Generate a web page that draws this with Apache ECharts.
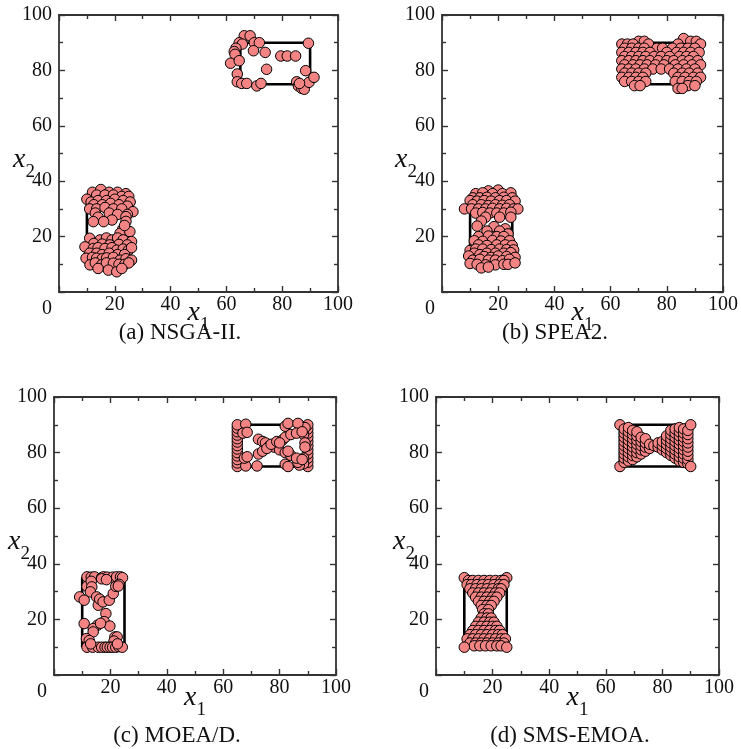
<!DOCTYPE html>
<html><head><meta charset="utf-8">
<script src="https://cdn.jsdelivr.net/npm/echarts@6/dist/echarts.min.js"></script>
<style>html,body{margin:0;padding:0;background:#fff}#c{width:741px;height:749px}</style>
</head><body><div id="c"></div>
<script>
// ---------------- data ----------------
const tickValues = [0, 20, 40, 60, 80, 100];
const panelCaptions = ['(a) NSGA-II.', '(b) SPEA2.', '(c) MOEA/D.', '(d) SMS-EMOA.'];
const rectLowerX = [10, 25, 25, 10, 10];
const rectLowerY = [10, 10, 35, 35, 10];
const rectUpperX = [65, 90, 90, 65, 65];
const rectUpperY = [75, 75, 90, 90, 75];

const nsga2Lower = [
 [12,36],[15,37],[18,36],[21,36],[24,35.5],
 [13.5,35],[16.5,35],[19.5,35],[22.5,34.5],[25,34.5],
 [10,33.5],[11.5,32.5],[14,33],[17,33],[20,33.5],[23,33],[25.5,32.5],
 [12.5,31.5],[15.5,31.5],[18.5,32],[21.5,31.5],[24.5,31],
 [11,30],[13.5,30],[16.5,30.5],[19.5,30],[22.5,30],[26.5,29],
 [13,28.5],[18,28.5],[21,28],[24.5,28],
 [14,27],[19,26],[24,27.2],
 [12.3,25.4],[16,25.4],[24,25.5],
 [22.8,22.6],[21.9,21.2],[25.4,21.8],[23.5,24],
 [11,19.4],[14.7,18.8],[17,19.5],[19,18.8],[21,19.5],[23,18.8],[26,18.2],
 [12.5,17.5],[15.5,17.3],[18.2,17],[21.5,17.2],[24.5,17],
 [9.3,16.3],[12.3,15.7],[14,16],[16.5,15.7],[19,16],[20.7,15.1],[23,15.5],[24.9,15.1],[26,16],
 [11,14],[13.5,14],[15.5,13.5],[18,14],[21,13.5],[23.5,13.5],
 [9.7,12.2],[12,12.5],[13.5,12.2],[15.5,12],[17.1,12.3],[19.5,12.5],[21.9,11.5],[24,12],[26,11.5],
 [11.1,9.8],[13,10.5],[15.3,9.8],[17,10.5],[19.5,10.4],[21.5,10],[23.6,10],[25,10.5],
 [14,8.5],[17.7,7.9],[20.7,7.3],[22.5,8.5]
];
const nsga2Upper = [
 [66.4,92.5],[68.5,92.5],[64.6,90],[65.7,89.5],[70,90],[71.8,90],[63.4,88],[62.8,86.8],
 [63.1,85.8],[61.5,82.6],[64.6,83.5],[69.7,87.1],[73.9,86.5],[79.5,85.2],[81.8,85.2],[84.8,85.2],
 [74.4,80.4],[89.4,89.8],[88.4,79.9],[63.9,78.7],[63.9,75.9],[65.5,75.3],[67.3,75.3],[70.9,74.4],
 [72.4,75.3],[85.2,75.9],[85.8,74.4],[87,73.5],[87.9,73.2],[89.6,75.7],[91.4,77.5],[86.2,75.3]
];

const spea2Lower = [
 [16.5,36.5],[20,36.8],
 [12,35.5],[14.5,35.8],[18,35.5],[21.5,35.5],[24.5,35.8],
 [11,34],[13.5,34],[16,34.2],[19,34],[22,34.2],[25,34],
 [10,33],[12.5,32.8],[15,33],[17.5,32.8],[20.5,33],[23,33],[26,32.8],
 [11,31.5],[14,31.5],[16.5,31.2],[19,31.5],[21.5,31.3],[24,31.5],
 [8,30],[10.5,30],[13,30],[15.5,30],[18,30.2],[20.5,30],[23,30.2],[25.5,30],[27,30],
 [12,28.5],[14.5,28.7],[17,28.5],[19.5,28.5],[22,28.5],[24.5,28.8],
 [15.5,27],[20.5,27],[24.5,27],
 [14,25.6],
 [12.5,23.8],[18.5,23.6],[22.5,22.8],
 [16,22],[20.5,22],[23.5,21],
 [13,20],[16.5,20.2],[19.5,20],[22,20],
 [11.5,18.5],[14.5,18.3],[18,18.6],[21,18.4],[24,18.5],
 [13,17],[16,16.8],[19.5,17],[22.5,17],[25,16.8],
 [10,15],[12,15.5],[14.5,15.5],[17.5,15.3],[20.5,15.5],[23,15.3],[25.5,15.2],
 [11.5,14],[13.5,13.5],[16,14],[19,14],[22,14],[24.5,14.2],
 [9.5,13],[15,12.8],[17.5,12.5],[20,13],[23,12.8],[26,12.5],
 [11,11.5],[13.5,11.8],[16.5,11.5],[19,11.5],[21.5,11.3],[24,11.8],
 [10,10.3],[12.5,10],[15.5,9.8],[19,9.8],[22,10],[23.5,10],[26,10.5],
 [14,8.7],[16.5,9]
];
const spea2Upper = [
 [86,91.5],
 [70,90.5],[72,90.5],[88.5,90.5],[90.5,90.5],
 [64,89.5],[66,89.5],[68,89.5],[73.5,89.5],[84,89.5],[92,89.5],
 [65,88],[67.5,88],[70,88],[72,88],[76.5,88],[78.5,88],[82,88],[85,88],[87.5,88],[90,88],
 [64,86.5],[66.5,86.5],[69,86.5],[71.5,86.5],[74,86.5],[80,86.5],[83.5,86.5],[86,86.5],[88.5,86.5],[91.5,86.5],
 [65,85],[67.5,85],[70,85],[72.5,85],[75.5,85],[78,85],[81,85],[84.5,85],[87,85],[89.5,85],
 [64,83.5],[66.5,83.5],[69,83.5],[71.5,83.5],[74,83.5],[77,83.5],[80,83.5],[82.5,83.5],[85.5,83.5],[88,83.5],[91,83.5],
 [65,82],[68,82],[70.5,82],[73,82],[76,82],[79,82],[83,82],[86,82],[89,82],[92,82],
 [64,80.5],[66.5,80.5],[69,80.5],[72,80.5],[75,80.5],[78,80.5],[81,80.5],[84,80.5],[87,80.5],[90,80.5],
 [65,79],[67.5,79],[70,79],[72.5,79],[82.5,79],[85.5,79],[88,79],[91,79],
 [64,77.5],[66.5,77.5],[69,77.5],[71.5,77.5],[84,77.5],[86.5,77.5],[89.5,77.5],[92,77.5],
 [65,76],[67.5,76],[70,76],[72.5,76],[83,76],[85.5,76],[88,76],[90.5,76],
 [68.5,74.5],[70.5,74.5],[87.5,74.5],[90,74.5],
 [84,73.5],[85.5,73.5]
];

const moeadLower = [
 [11.7,35.3],[13.2,35.2],[14.4,35.3],[16.9,35],[17.5,35.3],[18.9,35.2],[20.8,35.2],[22.2,35.3],[23.6,35.3],[24.3,35],
 [16.9,34.6],[18.6,34.3],
 [11.7,31.9],[13.2,33.7],[13.4,31.7],[12.9,29.9],[15.1,28.1],[15.7,25.1],[16.2,27.3],[17.4,26.3],
 [19.6,26.9],[21,29.3],[21.9,31.9],[23.1,32.6],[22.8,32],
 [9.1,28.1],[10.7,26.9],[10.7,18.5],
 [18.4,22.1],[15.4,17.9],[13.9,16.7],[13.9,15.5],[17.8,19.2],[19.8,17.6],[16.5,18.6],
 [11.5,13.1],[12.5,12.4],[21.6,13.7],[22.4,13.7],[21.3,12.2],
 [11.7,10],[13.7,10],[15.7,10],[16.9,10],[18.1,10],[18.9,10],[19.9,10],[20.8,10],[21.9,10],[23,10.2],[24.2,10],
 [13,11.2],[22.5,11.2]
];
const moeadUpper = [
 [65,75],[65,76.3],[65,77.5],[65,78.8],[65,80],[65,81.3],[65,82.5],[65,83.8],[65,85],[65,86.3],[65,87.5],[65,88.8],[65,90],
 [90,75],[90,76.5],[90,78],[90,79.5],[90,81],[90,82.5],[90,84],[90,85.5],[90,87],[90,88.5],[90,90],
 [88.5,76],[88.5,78],[88.5,86.5],[88.5,88.2],[87,90],[89,89],
 [68,90.2],[82,89.5],[83,90.5],[86.5,90.5],[67,87],[68.5,87.3],
 [68,75.2],[72,75.2],[82,75.8],[83,75],[87,75.5],[86.5,76.5],
 [67.5,78],[68.5,78.5],
 [72.5,84.8],[74,84],[75,83.5],[76.5,82.5],[78,82],[80,81],[82,80],[84,79],[86,78],[88,77.5],
 [72.5,79.5],[74,80.5],[75.5,81.5],[77,83],[79,84],[81,84.5],[82,85.5],[84,86.5],[86,87],[88,87.5],
 [83,80.5],[80,83.5],[89,83.5],[89,82]
];

const smsLower = [
 [10,35],[25,35],
 [11.5,34],[13,34],[15,34],[17,34],[19,34],[21,34],[23,34],[24,34],
 [11,32.5],[12.5,32.5],[14.5,32.5],[16.5,32.5],[18.5,32.5],[20.5,32.5],[22.5,32.5],[24,32.5],
 [12,31],[14,31],[16,31],[18,31],[20,31],[22,31],[23,31],
 [13,29.5],[15,29.5],[17,29.5],[19,29.5],[21,29.5],[22.5,29.5],
 [14,28],[16,28],[18,28],[20,28],[21.5,28],
 [15,26.5],[17,26.5],[19,26.5],[20.5,26.5],
 [16,25],[18,25],[19.5,25],
 [16.5,23.5],[18.5,23.5],
 [17,22],[18.5,22],
 [16,20.5],[18,20.5],[19.5,20.5],
 [15,19],[17,19],[19,19],[20.5,19],
 [14,17.5],[16,17.5],[18,17.5],[20,17.5],[21.5,17.5],
 [13,16],[15,16],[17,16],[19,16],[21,16],[22.5,16],
 [12,14.5],[14,14.5],[16,14.5],[18,14.5],[20,14.5],[22,14.5],[23.5,14.5],
 [11,13],[13,13],[15,13],[17,13],[19,13],[21,13],[23,13],[24.5,13],
 [12,11.5],[14,11.5],[16,11.5],[18,11.5],[20,11.5],[22,11.5],[24,11.5],
 [13.5,10.5],[15.5,10.5],[17.5,10.5],[19.5,10.5],[21.5,10.5],[23,10.5],
 [10,10],[25,10]
];
const smsUpper = [
 [65,90],[65,75],
 [66.5,76.5],[66.5,78],[66.5,79.5],[66.5,81],[66.5,82.5],[66.5,84],[66.5,85.5],[66.5,87],[66.5,88.5],
 [68,77],[68,78.5],[68,80],[68,81.5],[68,83],[68,84.5],[68,86],[68,87.5],[68,89],
 [69.5,77.5],[69.5,79],[69.5,80.5],[69.5,82],[69.5,83.5],[69.5,85],[69.5,86.5],[69.5,88],
 [71,78.5],[71,80],[71,81.5],[71,83],[71,84.5],[71,86],[71,87.5],
 [72.5,79.5],[72.5,81],[72.5,82.5],[72.5,84],[72.5,85.5],
 [74,80.5],[74,82],[74,83.5],[74,85],
 [75.5,81.5],[75.5,83],
 [77,82.5],
 [78.5,82],[78.5,83.5],
 [80,81],[80,82.5],[80,84],
 [81.5,80],[81.5,81.5],[81.5,83],[81.5,84.5],[81.5,86],
 [83,79],[83,80.5],[83,82],[83,83.5],[83,85],[83,86.5],[83,88],
 [84.5,78],[84.5,79.5],[84.5,81],[84.5,82.5],[84.5,84],[84.5,85.5],[84.5,87],[84.5,88.5],
 [86,77],[86,78.5],[86,80],[86,81.5],[86,83],[86,84.5],[86,86],[86,87.5],[86,89],
 [87.5,76.5],[87.5,78],[87.5,79.5],[87.5,81],[87.5,82.5],[87.5,84],[87.5,85.5],[87.5,87],[87.5,88.5],
 [89,76],[89,77.5],[89,79],[89,80.5],[89,82],[89,83.5],[89,85],[89,86.5],[89,88],
 [90,90],[90,75]
];

// ---------------- layout / style ----------------
const panelPoints = [
  nsga2Lower.concat(nsga2Upper),
  spea2Lower.concat(spea2Upper),
  moeadLower.concat(moeadUpper),
  smsLower.concat(smsUpper)
];
const gridBoxes = [
  {left: 59, top: 15, width: 279, height: 277},
  {left: 442, top: 15, width: 281, height: 277},
  {left: 54, top: 397, width: 282, height: 278},
  {left: 436, top: 397, width: 283, height: 278}
];
const yNameGaps = [24, 25, 24, 21];
const xNameGaps = [7, 7, 9, 9];
const captionPos = [[180, 321], [555, 321], [177, 724], [570, 724]];

const FONT = '"Liberation Serif","DejaVu Serif",serif';
const AX = '#333';
const tickMax = tickValues[tickValues.length - 1];
const tickStep = tickValues[1] - tickValues[0];

const nameRich = {
  i: {fontFamily: FONT, fontStyle: 'italic', fontSize: 28, lineHeight: 28, color: '#111', verticalAlign: 'middle'},
  s: {fontFamily: FONT, fontSize: 19, lineHeight: 19, color: '#111', verticalAlign: 'top', padding: [17, 0, 0, 0]}
};

function baseAxis(gi, showLabel) {
  return {
    gridIndex: gi, type: 'value', min: tickValues[0], max: tickMax, interval: tickStep,
    axisLine: {show: true, onZero: false, lineStyle: {color: AX, width: 1.8}},
    axisTick: {show: true, inside: true, length: 6, lineStyle: {color: AX, width: 1.4}},
    minorTick: {show: true, splitNumber: 2, length: 4, lineStyle: {color: AX, width: 1.4}},
    splitLine: {show: false},
    minorSplitLine: {show: false},
    axisLabel: {show: showLabel}
  };
}

const xAxes = [], yAxes = [], series = [], grids = [], titles = [];
gridBoxes.forEach((g, gi) => {
  grids.push(Object.assign({containLabel: false}, g));
  const xb = baseAxis(gi, true);
  xb.position = 'bottom';
  xb.axisLabel = {
    show: true, margin: 3, fontFamily: FONT, fontSize: 20, color: '#111',
    formatter: v => (+v === 0 ? '{z|0}' : String(v)),
    rich: {z: {fontFamily: FONT, fontSize: 20, color: '#111', width: 34, align: 'left', padding: [4, 0, 0, 0]}}
  };
  xb.name = '{i|x}{s|1}';
  xb.nameLocation = 'middle';
  xb.nameGap = xNameGaps[gi];
  xb.nameMoveOverlap = false;
  xb.nameTextStyle = {rich: nameRich};
  xAxes.push(xb);
  const xt = baseAxis(gi, false);
  xt.position = 'top';
  xAxes.push(xt);

  const yl = baseAxis(gi, true);
  yl.position = 'left';
  yl.axisLabel = {show: true, margin: 7, fontFamily: FONT, fontSize: 20, color: '#111', showMinLabel: false};
  yl.name = '{i|x}{s|2}';
  yl.nameLocation = 'middle';
  yl.nameRotate = 0;
  yl.nameGap = yNameGaps[gi];
  yl.nameMoveOverlap = false;
  yl.nameTextStyle = {rich: nameRich, padding: [12, 0, 0, 0]};
  yAxes.push(yl);
  const yr = baseAxis(gi, false);
  yr.position = 'right';
  yAxes.push(yr);

  const rectStyle = {type: 'line', xAxisIndex: gi * 2, yAxisIndex: gi * 2, symbol: 'none',
    lineStyle: {color: '#000', width: 2.6}, z: 2, silent: true};
  series.push(Object.assign({}, rectStyle, {data: rectLowerX.map((x, k) => [x, rectLowerY[k]])}));
  series.push(Object.assign({}, rectStyle, {data: rectUpperX.map((x, k) => [x, rectUpperY[k]])}));
  series.push({
    type: 'scatter', xAxisIndex: gi * 2, yAxisIndex: gi * 2, z: 3,
    symbol: 'circle', symbolSize: 10.5,
    itemStyle: {color: '#F48484', borderColor: '#000', borderWidth: 1, opacity: 1},
    data: panelPoints[gi]
  });

  titles.push({
    text: panelCaptions[gi], left: captionPos[gi][0], top: captionPos[gi][1],
    textAlign: 'center', padding: 0,
    textStyle: {fontFamily: FONT, fontSize: 23, fontWeight: 'normal', color: '#111'}
  });
});

const chart = echarts.init(document.getElementById('c'), null, {renderer: 'canvas'});
chart.setOption({
  animation: false,
  backgroundColor: '#fff',
  title: titles,
  grid: grids,
  xAxis: xAxes,
  yAxis: yAxes,
  series: series
});
</script>
</body></html>
